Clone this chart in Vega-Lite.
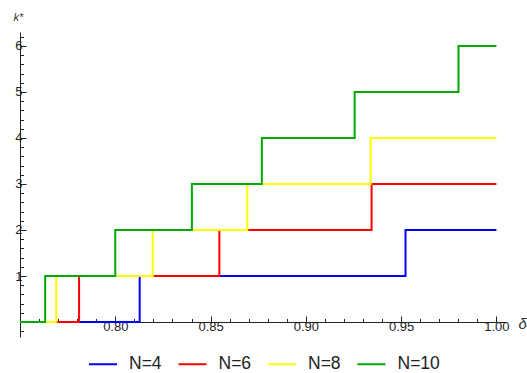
{
  "$schema": "https://vega.github.io/schema/vega-lite/v6.json",
  "width": 485,
  "height": 305,
  "autosize": "none",
  "padding": {"left": 20, "top": 32, "right": 22, "bottom": 36},
  "background": "white",
  "config": {
    "view": {"stroke": null},
    "font": "Liberation Sans"
  },
  "data": {
    "values": [
      {"N": "N=4", "ord": 1, "delta": 0.75, "k": 0},
      {"N": "N=4", "ord": 1, "delta": 0.8128, "k": 1},
      {"N": "N=4", "ord": 1, "delta": 0.9523, "k": 2},
      {"N": "N=4", "ord": 1, "delta": 1.0, "k": 2},
      {"N": "N=6", "ord": 2, "delta": 0.75, "k": 0},
      {"N": "N=6", "ord": 2, "delta": 0.781, "k": 1},
      {"N": "N=6", "ord": 2, "delta": 0.8546, "k": 2},
      {"N": "N=6", "ord": 2, "delta": 0.9345, "k": 3},
      {"N": "N=6", "ord": 2, "delta": 1.0, "k": 3},
      {"N": "N=8", "ord": 3, "delta": 0.75, "k": 0},
      {"N": "N=8", "ord": 3, "delta": 0.769, "k": 1},
      {"N": "N=8", "ord": 3, "delta": 0.8196, "k": 2},
      {"N": "N=8", "ord": 3, "delta": 0.8693, "k": 3},
      {"N": "N=8", "ord": 3, "delta": 0.934, "k": 4},
      {"N": "N=8", "ord": 3, "delta": 1.0, "k": 4},
      {"N": "N=10", "ord": 4, "delta": 0.75, "k": 0},
      {"N": "N=10", "ord": 4, "delta": 0.7632, "k": 1},
      {"N": "N=10", "ord": 4, "delta": 0.8, "k": 2},
      {"N": "N=10", "ord": 4, "delta": 0.8402, "k": 3},
      {"N": "N=10", "ord": 4, "delta": 0.8769, "k": 4},
      {"N": "N=10", "ord": 4, "delta": 0.9256, "k": 5},
      {"N": "N=10", "ord": 4, "delta": 0.9801, "k": 6},
      {"N": "N=10", "ord": 4, "delta": 1.0, "k": 6}
    ]
  },
  "mark": {"type": "line", "interpolate": "step-after", "strokeWidth": 2, "clip": false},
  "encoding": {
    "x": {
      "field": "delta",
      "type": "quantitative",
      "scale": {"domain": [0.75, 1.0045], "nice": false, "zero": false},
      "axis": {
        "orient": "bottom",
        "offset": -15,
        "grid": false,
        "values": [0.76,0.77,0.78,0.79,0.80,0.81,0.82,0.83,0.84,0.85,0.86,0.87,0.88,0.89,0.90,0.91,0.92,0.93,0.94,0.95,0.96,0.97,0.98,0.99,1.00],
        "labelExpr": "abs(datum.value*20 - round(datum.value*20)) < 1e-6 ? format(datum.value, '.2f') : ''",
        "tickSize": {"condition": {"test": "abs(datum.value*20 - round(datum.value*20)) < 1e-6", "value": -6}, "value": -3.5},
        "labelPadding": 4,
        "labelFontSize": 13,
        "labelColor": "#222",
        "labelFlush": false,
        "labelOverlap": false,
        "domainColor": "#222",
        "tickColor": "#222",
        "title": "δ",
        "titleFontStyle": "italic",
        "titleFontWeight": "normal",
        "titleFontSize": 15,
        "titleColor": "#333",
        "titleX": 498,
        "titleY": 6,
        "titleAlign": "left",
        "titleBaseline": "alphabetic"
      }
    },
    "y": {
      "field": "k",
      "type": "quantitative",
      "scale": {"domain": [-0.326, 6.304], "nice": false, "zero": false},
      "axis": {
        "orient": "left",
        "grid": false,
        "values": [-0.2,0,0.2,0.4,0.6,0.8,1,1.2,1.4,1.6,1.8,2,2.2,2.4,2.6,2.8,3,3.2,3.4,3.6,3.8,4,4.2,4.4,4.6,4.8,5,5.2,5.4,5.6,5.8,6,6.2],
        "labelExpr": "abs(datum.value - round(datum.value)) < 1e-6 && datum.value > 0.5 ? format(datum.value, 'd') : ''",
        "tickSize": {"condition": {"test": "abs(datum.value - round(datum.value)) < 1e-6", "value": -6}, "value": -3.5},
        "labelPadding": 4,
        "labelFontSize": 13,
        "labelColor": "#222",
        "labelFlush": false,
        "labelOverlap": false,
        "domainColor": "#222",
        "tickColor": "#222",
        "title": "k*",
        "titleFontStyle": "italic",
        "titleFontWeight": "normal",
        "titleFontSize": 11,
        "titleColor": "#333",
        "titleAngle": 0,
        "titleX": -7,
        "titleY": -12,
        "titleAlign": "left",
        "titleBaseline": "alphabetic"
      }
    },
    "color": {
      "field": "N",
      "type": "nominal",
      "scale": {"domain": ["N=4", "N=6", "N=8", "N=10"], "range": ["#0000FF", "#FF0000", "#FFFF00", "#00AA00"]},
      "legend": {
        "title": null,
        "orient": "none",
        "direction": "horizontal",
        "legendX": 68,
        "legendY": 317,
        "padding": 0,
        "symbolType": "stroke",
        "symbolSize": 784,
        "symbolStrokeWidth": 2,
        "labelFontSize": 17.5,
        "labelColor": "#222",
        "labelOffset": 11,
        "columnPadding": 12.5
      }
    },
    "order": {"field": "ord"}
  }
}
